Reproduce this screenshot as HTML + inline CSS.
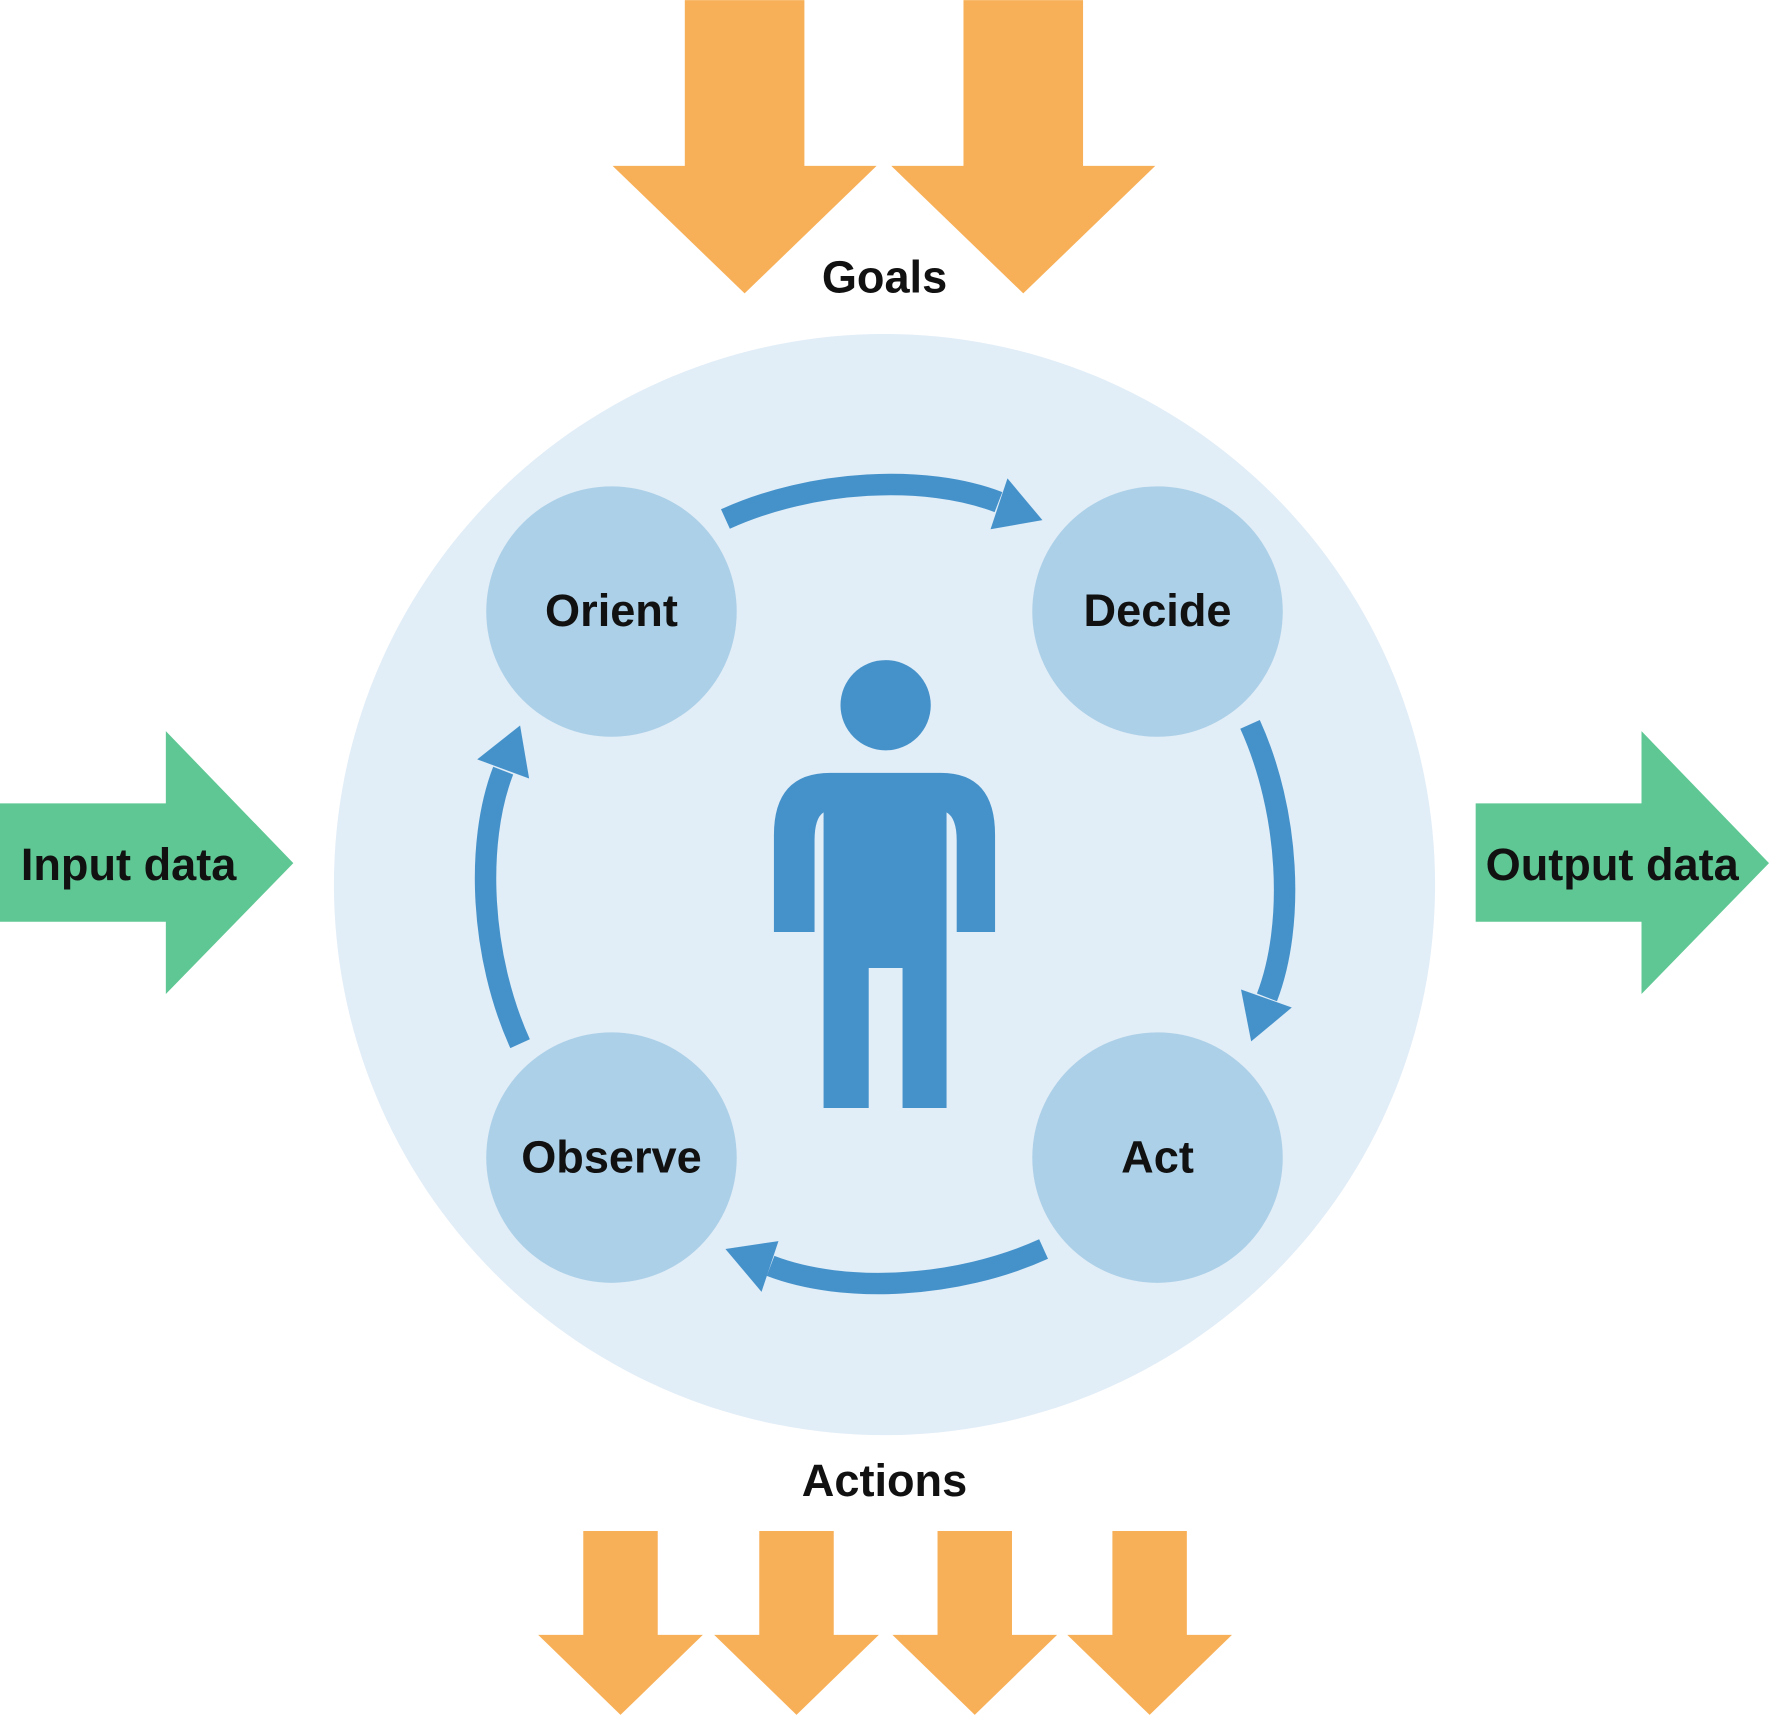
<!DOCTYPE html>
<html><head><meta charset="utf-8"><style>html,body{margin:0;padding:0;background:#fff}svg{display:block}</style></head>
<body>
<svg width="1769" height="1715" viewBox="0 0 1568 1520" xmlns="http://www.w3.org/2000/svg" font-family="Liberation Sans, sans-serif" font-weight="bold">
<rect width="1568" height="1520" fill="#fff"/>
<g fill="#f8b058">
<polygon points="607,0 713,0 713,147 777,147 660,260 543,147 607,147"/>
<polygon points="854,0 960,0 960,147 1024,147 907,260 790,147 854,147"/>
<polygon points="517,1357 583,1357 583,1449 623,1449 550,1520 477,1449 517,1449"/>
<polygon points="673,1357 739,1357 739,1449 779,1449 706,1520 633,1449 673,1449"/>
<polygon points="831,1357 897,1357 897,1449 937,1449 864,1520 791,1449 831,1449"/>
<polygon points="986,1357 1052,1357 1052,1449 1092,1449 1019,1520 946,1449 986,1449"/>
</g>
<g fill="#5ec793">
<polygon points="0,712 147,712 147,648 260,765 147,881 147,817 0,817"/>
<polygon points="1308,712 1455,712 1455,648 1568,765 1455,881 1455,817 1308,817"/>
</g>
<circle cx="784" cy="784" r="488" fill="#e1edf7"/>
<g fill="#acd0e8">
<circle cx="542" cy="542" r="111"/><circle cx="1026" cy="542" r="111"/>
<circle cx="542" cy="1026" r="111"/><circle cx="1026" cy="1026" r="111"/>
</g>
<g fill="#4592cb">
<circle cx="785" cy="625" r="40"/>
<path d="M730,982 L730,720 Q722,725 722,745 L722,826 L686,826 L686,740 Q686,685 736,685 L834,685 Q882,685 882,740 L882,826 L848,826 L848,745 Q848,725 839,720 L839,982 L800,982 L800,858 L770,858 L770,982 Z"/>
<polygon points="893,424 924,461 878,469"/>
<polygon points="1100,877 1109,923 1145,893"/>
<polygon points="643,1107 675,1145 690,1100"/>
<polygon points="423,673 461,643 469,690"/>
</g>
<g fill="none" stroke="#4592cb" stroke-width="19">
<path d="M643,460 C720,425 820,420 885,445"/>
<path d="M1108,642 C1143,719 1148,819 1123,884"/>
<path d="M925,1107 C848,1142 748,1147 683,1122"/>
<path d="M461,925 C426,848 421,748 446,683"/>
</g>
<g fill="#111" font-size="40" text-anchor="middle">
<text x="542" y="555">Orient</text>
<text x="1026" y="555">Decide</text>
<text x="542" y="1039">Observe</text>
<text x="1026" y="1039">Act</text>
<text x="784" y="259">Goals</text>
<text x="784" y="1326">Actions</text>
<text x="114" y="780">Input data</text>
<text x="1429" y="780">Output data</text>
</g>
</svg>
</body></html>
